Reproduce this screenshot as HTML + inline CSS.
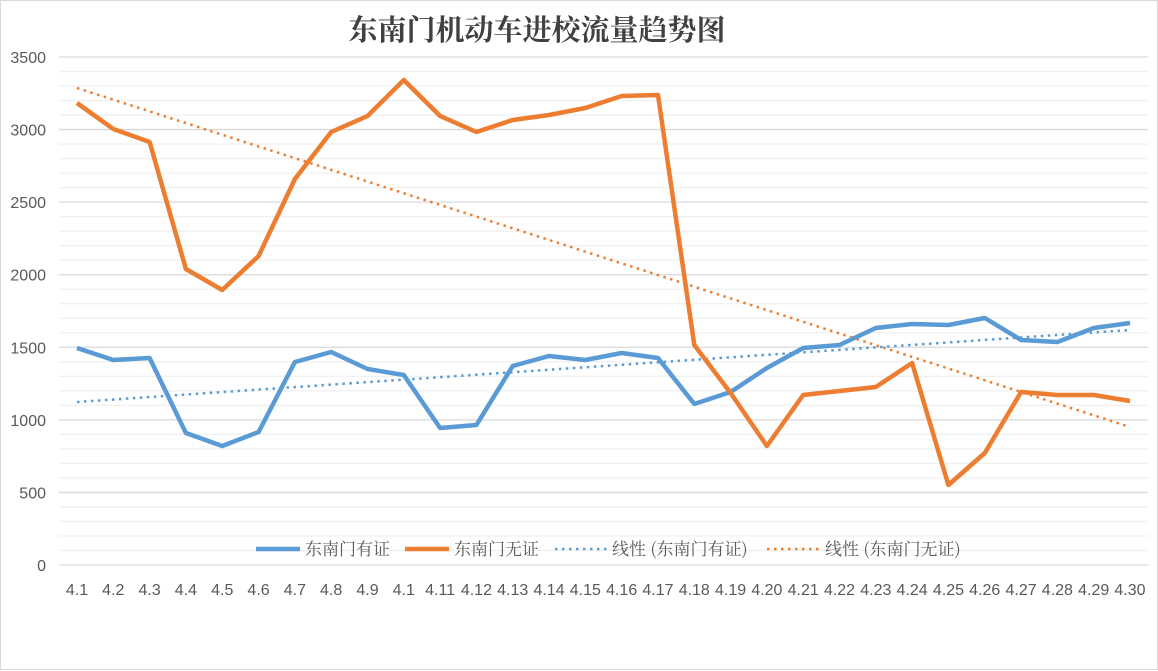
<!DOCTYPE html>
<html><head><meta charset="utf-8"><style>
body{margin:0;background:#fff;}
svg{display:block;font-family:"Liberation Sans","Noto Sans CJK SC",sans-serif;}
</style></head><body>
<svg width="1158" height="671" viewBox="0 0 1158 671" xmlns="http://www.w3.org/2000/svg">
<rect x="0.5" y="0.5" width="1157" height="669" fill="#fff" stroke="#d9d9d9"/>
<text x="537" y="40" font-size="29" font-weight="bold" text-anchor="middle" fill="#404040" font-family="'Noto Serif CJK SC','Noto Sans CJK SC',serif">东南门机动车进校流量趋势图</text>
<g id="grid"></g>
<g id="ylab" font-size="16" fill="#595959" text-anchor="end"></g>
<g id="xlab" font-size="16" fill="#595959" text-anchor="middle"></g>
<polyline id="tb" fill="none" stroke="#5b9bd5" stroke-width="2.5" stroke-dasharray="2.5 4.5" points="77,402 1130,330"/>
<polyline id="to" fill="none" stroke="#ed7d31" stroke-width="2.5" stroke-dasharray="2.5 4.5" points="77,88 1130,427"/>
<polyline id="b" fill="none" stroke="#5b9bd5" stroke-width="4.5" stroke-linejoin="round"/>
<polyline id="o" fill="none" stroke="#ed7d31" stroke-width="4.5" stroke-linejoin="round"/>
<g font-size="17" fill="#595959" font-family="'Noto Serif CJK SC','Liberation Serif',serif">
<line x1="256" y1="549" x2="300" y2="549" stroke="#5b9bd5" stroke-width="4.5"/>
<text x="305" y="555">东南门有证</text>
<line x1="405" y1="549" x2="449" y2="549" stroke="#ed7d31" stroke-width="4.5"/>
<text x="454" y="555">东南门无证</text>
<line x1="555" y1="549" x2="607" y2="549" stroke="#5b9bd5" stroke-width="2.5" stroke-dasharray="2.5 4.5"/>
<text x="612" y="555">线性 (东南门有证)</text>
<line x1="767" y1="549" x2="819" y2="549" stroke="#ed7d31" stroke-width="2.5" stroke-dasharray="2.5 4.5"/>
<text x="825" y="555">线性 (东南门无证)</text>
</g>
</svg>
<script>
const ns="http://www.w3.org/2000/svg";
const g=document.getElementById('grid'),yl=document.getElementById('ylab'),xl=document.getElementById('xlab');
for(let v=0;v<=3500;v+=100){const y=565-v*0.145143;const l=document.createElementNS(ns,'line');
l.setAttribute('x1',59);l.setAttribute('x2',1148);l.setAttribute('y1',y);l.setAttribute('y2',y);
l.setAttribute('stroke',v%500==0?'#d9d9d9':'#f0f0f0');l.setAttribute('stroke-width',1.3);g.appendChild(l);
if(v%500==0){const t=document.createElementNS(ns,'text');t.setAttribute('x',46);t.setAttribute('y',y+6);t.textContent=v;yl.appendChild(t);}}
const labs=[];for(let i=1;i<=30;i++)labs.push('4.'+(i==10?'1':i));
labs.forEach((s,i)=>{const t=document.createElementNS(ns,'text');t.setAttribute('x',77+i*36.31);t.setAttribute('y',595);t.textContent=s;xl.appendChild(t);});
const B=[348,360,358,433,446,432,362,352,369,375,428,425,366,356,360,353,358,404,392,368,348,345,328,324,325,318,340,342,328,323];
const O=[103,129,142,269,290,256,179,132,116,80,116,132,120,115,108,96,95,345,393,446,395,391,387,363,485,453,392,395,395,401];
const pts=a=>a.map((y,i)=>(77+i*36.31).toFixed(1)+','+y).join(' ');
document.getElementById('b').setAttribute('points',pts(B));
document.getElementById('o').setAttribute('points',pts(O));
</script>
</body></html>
